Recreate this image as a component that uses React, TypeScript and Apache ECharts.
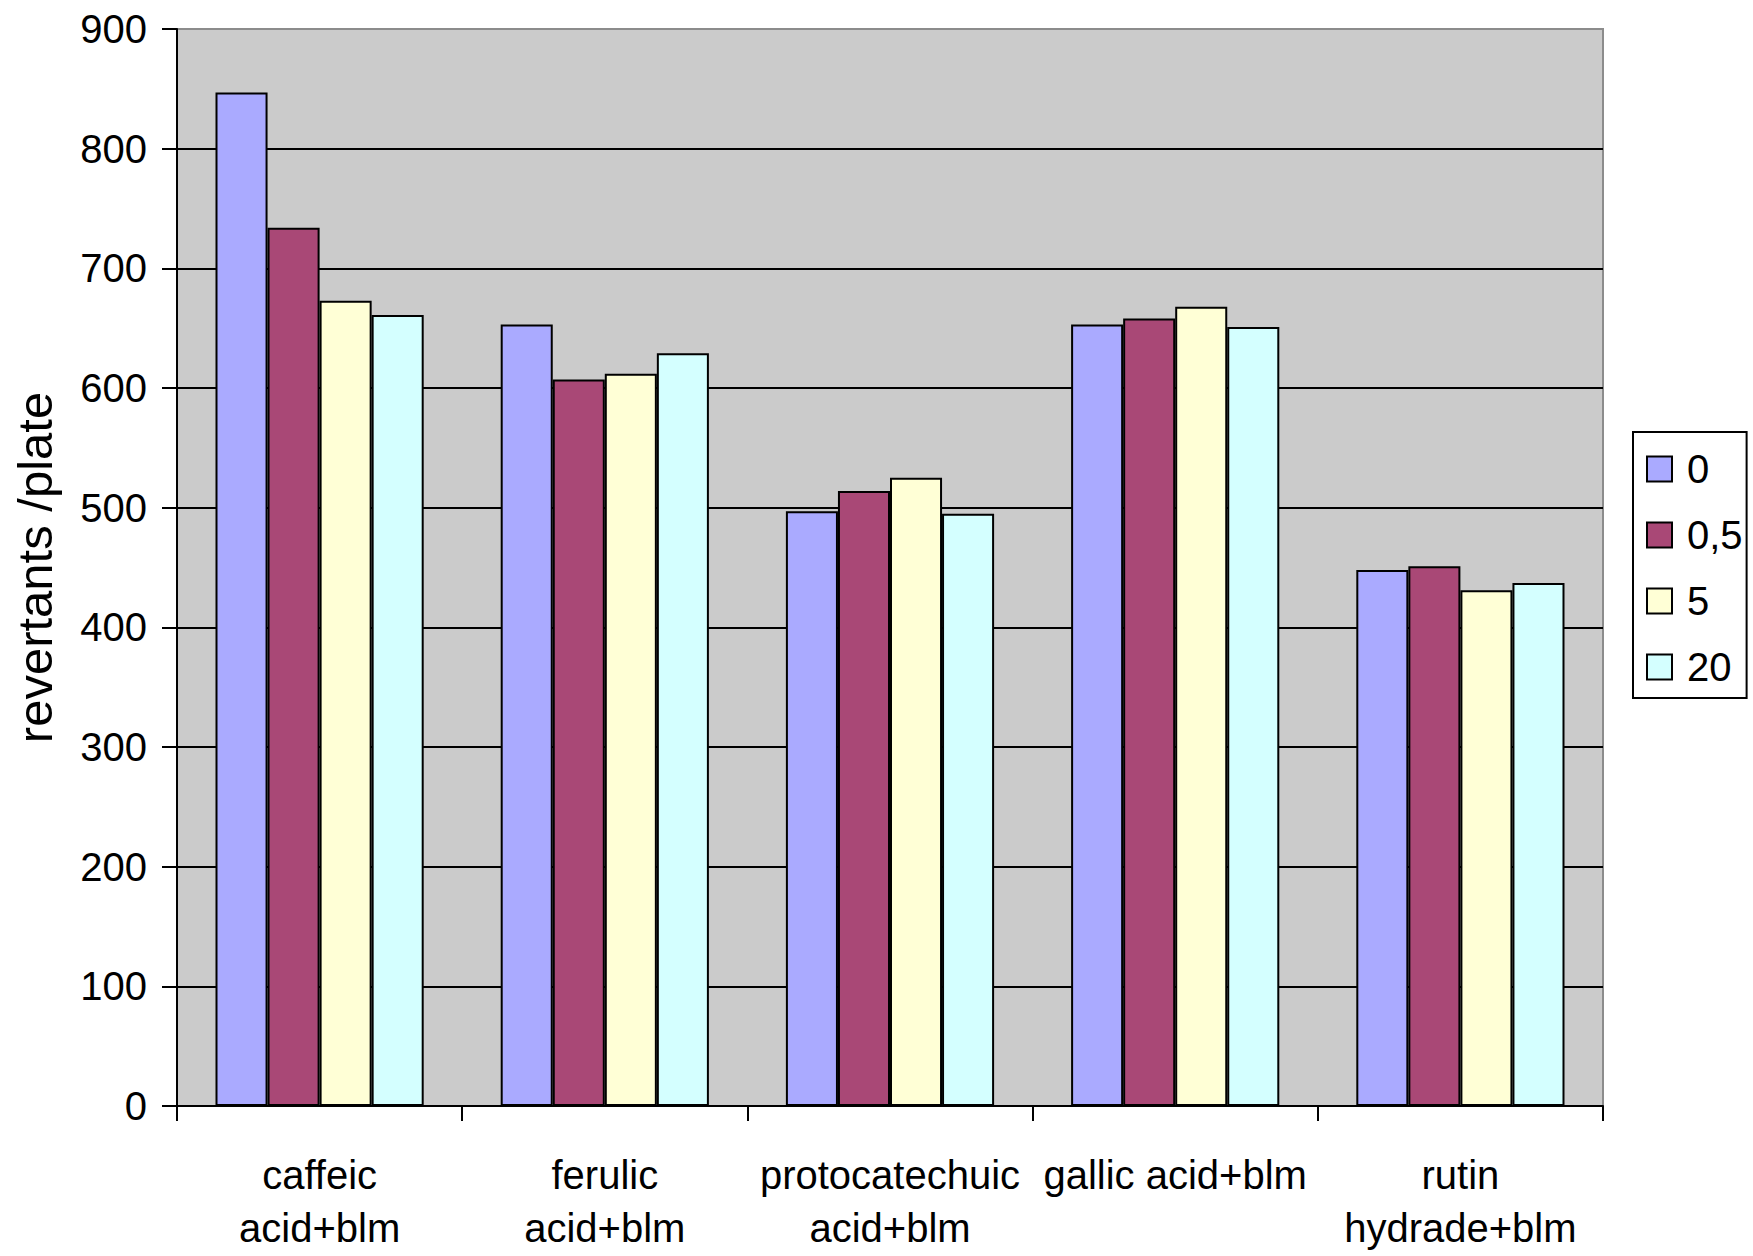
import React, { useEffect, useRef } from "react";
import * as echarts from "echarts";

// Compounds tested (each combined with bleomycin)
const categories = [
  "caffeic\nacid+blm",
  "ferulic\nacid+blm",
  "protocatechuic\nacid+blm",
  "gallic acid+blm",
  "rutin\nhydrade+blm",
];

// Dose groups
const doses = ["0", "0,5", "5", "20"];

// Revertants per plate for each dose group
const dose0 = [847, 653, 497, 653, 448];
const dose05 = [734, 607, 514, 658, 451];
const dose5 = [673, 612, 525, 668, 431];
const dose20 = [661, 629, 495, 651, 437];

const yTicks = [0, 100, 200, 300, 400, 500, 600, 700, 800, 900];

const colors = ["#aaaaff", "#a94876", "#ffffd6", "#d4ffff"];
const FONT = "'Liberation Sans', Arial, sans-serif";

export default function App() {
  const ref = useRef<HTMLDivElement>(null);

  useEffect(() => {
    if (!ref.current) return;
    const chart = echarts.init(ref.current, null, { renderer: "svg" });
    const values = [dose0, dose05, dose5, dose20];
    chart.setOption({
      animation: false,
      backgroundColor: "#ffffff",
      textStyle: { fontFamily: FONT },
      grid: {
        left: 177,
        right: 150,
        top: 29,
        bottom: 150,
        outerBoundsMode: "none",
        containLabel: false,
        show: true,
        backgroundColor: "#cbcbcb",
        borderColor: "#8c8c8c",
        borderWidth: 2,
      },
      legend: {
        orient: "vertical",
        left: 1633,
        top: 432,
        data: doses,
        icon: "rect",
        itemWidth: 25,
        itemHeight: 25,
        itemGap: 26,
        padding: [17, 4, 11, 13],
        borderColor: "#000",
        borderWidth: 2,
        backgroundColor: "#fff",
        textStyle: {
          fontFamily: FONT,
          fontSize: 40,
          color: "#000",
          lineHeight: 40,
          padding: [0, 0, 0, 10],
        },
      },
      xAxis: {
        type: "category",
        data: categories,
        boundaryGap: true,
        axisLine: { lineStyle: { color: "#000", width: 2 } },
        axisTick: { show: true, length: 15, lineStyle: { color: "#000", width: 2 } },
        axisLabel: {
          interval: 0,
          margin: 42,
          fontFamily: FONT,
          fontSize: 40,
          lineHeight: 53,
          color: "#000",
        },
      },
      yAxis: {
        type: "value",
        min: yTicks[0],
        max: yTicks[yTicks.length - 1],
        interval: 100,
        name: "revertants /plate",
        nameLocation: "middle",
        nameGap: 118,
        nameTextStyle: { fontFamily: FONT, fontSize: 49, color: "#000" },
        axisLine: { show: true, lineStyle: { color: "#000", width: 2 } },
        axisTick: { show: true, length: 15, lineStyle: { color: "#000", width: 2 } },
        axisLabel: { margin: 30, fontFamily: FONT, fontSize: 40, color: "#000" },
        splitLine: {
          show: true,
          lineStyle: {
            width: 2,
            color: yTicks.map((t, i) => (i === yTicks.length - 1 ? "#8c8c8c" : "#000")),
          },
        },
      },
      series: doses.map((d, i) => ({
        name: d,
        type: "bar",
        data: values[i],
        barGap: "0%",
        barCategoryGap: "27%",
        itemStyle: { color: colors[i], borderColor: "#000", borderWidth: 2 },
      })),
    });
    return () => chart.dispose();
  }, []);

  return (
    <div
      ref={ref}
      style={{ position: "fixed", left: 0, top: 0, width: 1753, height: 1256 }}
    />
  );
}
